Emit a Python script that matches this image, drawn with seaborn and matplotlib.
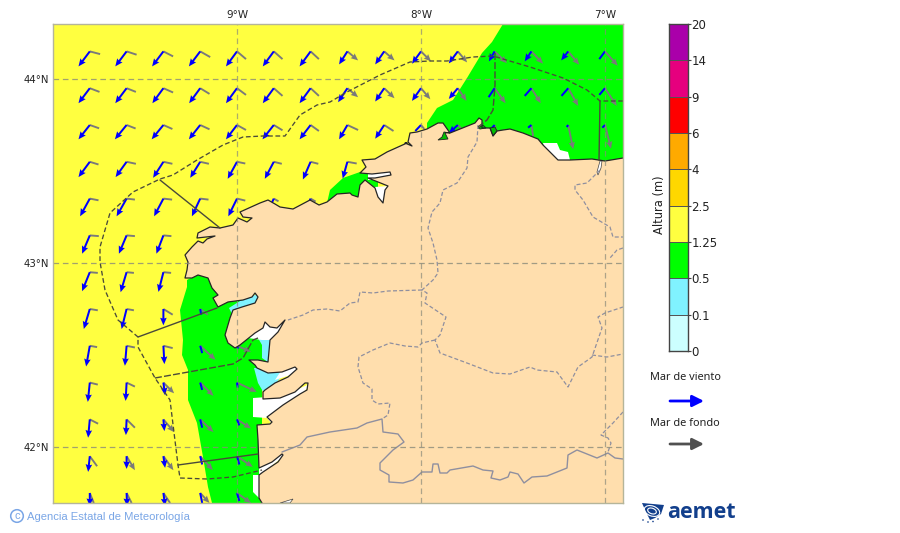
import numpy as np
import pandas as pd
import seaborn as sns
import matplotlib
matplotlib.use("Agg")
import matplotlib.pyplot as plt
from matplotlib.colors import ListedColormap
from matplotlib.patches import Ellipse, Polygon, Circle

# ---------------------------------------------------------------- data
LEVELS = ["0", "0.1", "0.5", "1.25", "2.5", "4", "6", "9", "14", "20"]
LEVEL_COLORS = ["#CCFFFF", "#80F2FF", "#00FF00", "#FFFF40", "#FFD700",
                "#FFAA00", "#FF0000", "#E6007E", "#AA00AA"]
LON_TICKS = [-9, -8, -7]
LAT_TICKS = [42, 43, 44]
GRID_LON = [-9.8 + 0.2 * k for k in range(15)]
GRID_LAT = [44.15 - 0.2 * k for k in range(13)]
n = np.nan

# wind-sea (blue) and swell (grey) vectors on the grid, one row per latitude
BLUE_U = [
    [-11.3, -11.3, -11.3, -11.3, -11, -11, -11, -8.3, -9, -9, -9, -5.7, -6.7, -7, -5.7],
    [-11.3, -11.3, -11, -11, -11, -11, -11, -9.3, -9, -9, -9, -6, -6.7, -6.7, -5.7],
    [-11.3, -11.7, -11.7, -11.3, -11, -11.3, -11, -8.3, -9, -5.7, -9, -4, -3.3, -1.5, -2.7],
    [-11.3, -11, -10.3, -10, -9.3, -9, -7.7, -4.7, n, n, n, n, n, n, n],
    [-9.7, -10, -9.3, -8.3, -8.7, -7, -7, n, n, n, n, n, n, n, n],
    [-7.7, -7.7, -7, n, n, n, n, n, n, n, n, n, n, n, n],
    [-7.7, -6, -5, n, n, n, n, n, n, n, n, n, n, n, n],
    [-6, -5, 0, 1, -4, n, n, n, n, n, n, n, n, n, n],
    [-3.7, -1.7, 1, 2, 1, n, n, n, n, n, n, n, n, n, n],
    [-2, -1, 1.7, 2, 0.7, n, n, n, n, n, n, n, n, n, n],
    [-1.7, -0.7, 1, 2, 2.3, n, n, n, n, n, n, n, n, n, n],
    [-1.7, 0, 1.7, 2, 2.3, n, n, n, n, n, n, n, n, n, n],
    [0, 0.5, 1.7, 2, 2.3, n, n, n, n, n, n, n, n, n, n],
]
BLUE_V = [
    [-15, -15, -15, -15, -15, -15, -15, -13, -13, -12.3, -12, -10, -10, -9, -7.7],
    [-15, -15, -15, -15, -15, -15, -15, -14, -13.3, -12.7, -10.7, -9, -7.7, -7.7, -6.7],
    [-14.3, -14.3, -14.3, -14.3, -14.3, -14.3, -14.3, -14.3, -13.7, -6, -8.3, -4.3, -2.7, -2, -2.7],
    [-15.3, -15.3, -16, -16, -17, -17, -17.7, -16.7, n, n, n, n, n, n, n],
    [-17.7, -17.7, -17.7, -17.7, -17.7, -15, -15, n, n, n, n, n, n, n, n],
    [-18.3, -18.3, -18.3, n, n, n, n, n, n, n, n, n, n, n, n],
    [-19, -20, -19.7, n, n, n, n, n, n, n, n, n, n, n, n],
    [-20, -20, -16.3, -5.7, -4, n, n, n, n, n, n, n, n, n, n],
    [-20.7, -20, -18.3, -7.3, -3, n, n, n, n, n, n, n, n, n, n],
    [-19.3, -18.3, -12.7, -7.3, -5, n, n, n, n, n, n, n, n, n, n],
    [-18.3, -15.7, -11.7, -8.3, -6, n, n, n, n, n, n, n, n, n, n],
    [-15.7, -12.7, -11.7, -8.3, -8.3, n, n, n, n, n, n, n, n, n, n],
    [-13, -13, -13, -10, -8, n, n, n, n, n, n, n, n, n, n],
]
GREY_U = [
    [10.3, 10, 9.7, 10, 9, 8.7, 8.3, 10.7, 10.3, 10, 9.3, 12.3, 11.7, 11, 12.7],
    [9.7, 9.3, 9.7, 9.3, 9, 8.7, 8.3, 10.7, 10.3, 9.3, 8.7, 11, 9.3, 10, 11.7],
    [9.3, 9, 9, 9.3, 9, 8.7, 8.3, 10.7, 9.3, 3.3, 3, 2.3, 1.7, 5, 6],
    [8.7, 9.3, 9, 8.7, 8.3, 8, 7.7, 9.3, n, n, n, n, n, n, n],
    [8.7, 8.3, 8.7, 8.3, 8.3, 4.7, 5, n, n, n, n, n, n, n, n],
    [9, 8.3, 8, n, n, n, n, n, n, n, n, n, n, n, n],
    [8, 7.3, 7.7, n, n, n, n, n, n, n, n, n, n, n, n],
    [8, 7.3, 9.3, 7.7, 3, n, n, n, n, n, n, n, n, n, n],
    [7.3, 8.3, 9.3, 15.3, 14, n, n, n, n, n, n, n, n, n, n],
    [8, 8.3, 10.7, 13.3, 19.7, n, n, n, n, n, n, n, n, n, n],
    [8.3, 8.3, 10.7, 13.3, 14, n, n, n, n, n, n, n, n, n, n],
    [7.3, 8.3, 10, 12.7, 15.7, n, n, n, n, n, n, n, n, n, n],
    [4, 5, 6.7, 9.3, 14, n, n, n, n, n, n, n, n, n, n],
]
GREY_V = [
    [-2.7, -3.3, -5, -5.7, -7.7, -7.7, -7.7, -9, -9, -10, -11, -11.7, -12.3, -13.3, -14.3],
    [-3.7, -3.7, -4.3, -5.7, -6.7, -7.7, -7.7, -9, -10, -11, -12.7, -15, -15, -17.7, -17.7],
    [-3.3, -3.5, -4, -4.3, -5, -5.3, -6, -5, -6, -4, -3, -9.3, -11, -24.3, -23.7],
    [-2.7, -2, -2, -2, -1.7, -2, -2, -1.7, n, n, n, n, n, n, n],
    [-1.7, -1, -1, -1, -2, -2.7, -3, n, n, n, n, n, n, n, n],
    [-0.7, -0.7, -0.7, n, n, n, n, n, n, n, n, n, n, n, n],
    [-0.7, -0.7, -0.7, n, n, n, n, n, n, n, n, n, n, n, n],
    [-1.3, -1.3, -5.7, -5.7, -3, n, n, n, n, n, n, n, n, n, n],
    [-1.3, -1.7, -2.3, -14, -6, n, n, n, n, n, n, n, n, n, n],
    [-2, -4, -10.7, -13.3, -9.3, n, n, n, n, n, n, n, n, n, n],
    [-4.3, -8.3, -12.7, -12.7, -9, n, n, n, n, n, n, n, n, n, n],
    [-10, -14, -14, -14, -10.7, n, n, n, n, n, n, n, n, n, n],
    [-10, -10, -10, -10, -10, n, n, n, n, n, n, n, n, n, n],
]

# map outlines traced on a 184-cells-per-degree grid (i east, j south)
COAST = [(623,158),(605,161),(592,159),(570,160),(558,160),(553,155),(543,145),(538,139),(523,133),
    (510,129),(503,130),(497,131),(493,136),(490,128),(482,128),(482,120),(479,118),(475,123),(460,129),
    (450,133),(443,123),(438,123),(427,129),(417,132),(410,133),(408,142),(412,146),(405,143),(407,143),
    (387,152),(375,159),(362,160),(366,167),(360,173),(372,174),(390,172),(391,175),(375,178),(368,178),
    (388,186),(385,190),(383,203),(378,197),(375,188),(365,180),(360,185),(358,197),(352,195),(350,193),
    (337,194),(327,202),(319,205),(310,200),(293,209),(280,207),(275,204),(268,200),(260,203),(240,212),
    (243,217),(252,218),(247,222),(238,218),(233,225),(220,228),(210,227),(198,233),(197,238),(215,236),
    (207,239),(203,243),(198,241),(192,247),(185,255),(188,262),(187,270),(185,278),(192,278),(198,275),
    (208,278),(212,288),(218,295),(213,298),(218,307),(228,302),(243,300),(252,297),(255,293),(258,297),
    (255,303),(242,307),(233,310),(230,318),(225,335),(228,343),(235,348),(240,345),(250,337),(255,333),
    (263,328),(265,322),(270,327),(277,328),(285,320),(278,332),(270,340),(268,362),(258,360),(249,360),
    (255,365),(257,368),(268,373),(282,372),(295,367),(297,369),(288,377),(275,383),(265,390),(263,392),
    (263,399),(280,398),(295,392),(305,383),(308,383),(307,390),(300,394),(283,405),(267,417),(272,422),
    (270,424),(257,425),(258,440),(259,468),(272,462),(282,454),(283,455),(278,462),(263,472),(259,475),
    (259,498),(262,503)]
LAND_CORNERS = [(623,503)]
GREEN_NE = [(503,24),(623,24),(623,175),(427,150),(427,123),(437,108),(453,100),(467,78),(482,53),(492,42)]
GREEN_BAY = [(327,203),(330,190),(343,178),(360,172),(378,177),(378,200),(350,205)]
GREEN_W = [(187,280),(187,287),(180,310),(183,340),(182,355),(188,370),(188,400),(197,423),(203,457),
    (208,487),(212,503),(262,503),(262,380),(285,320),(240,290),(205,270)]
CYAN_AREAS = [
    [(229,308),(240,301),(260,293),(258,304),(238,310),(232,314)],
    [(258,338),(270,338),(272,365),(262,358),(262,345)],
    [(254,368),(258,383),(265,395),(272,388),(282,376),(283,366),(268,368)],
]
WHITE_AREAS = [
    [(543,143),(557,143),(560,150),(568,152),(570,160),(548,165)],
    [(375,187),(388,186),(383,204),(375,195)],
    [(368,172),(395,170),(395,178),(368,180)],
    [(248,338),(262,322),(290,315),(280,340),(262,340)],
    [(275,380),(283,368),(300,362),(300,372)],
    [(253,398),(253,417),(267,418),(272,424),(300,396),(312,383),(282,396)],
    [(253,475),(253,492),(259,498),(262,503),(262,475)],
    [(259,468),(284,452),(284,456),(259,476)],
]
ESTUARY_GREEN = [[(438,140),(448,139),(445,133),(450,133),(444,132),(442,137)],
    [(478,128),(483,125),(486,128),(480,129)],[(490,128),(493,136),(497,131),(495,127)]]
ESTUARY_WHITE = [[(600,161),(597,172),(598,175),(601,168),(602,161)],[(280,503),(293,499),(290,503)]]

PROV_LINES = [
    [(478,125),(477,142),(468,157),(467,168),(457,183),(443,190),(440,203),(432,212),(428,228),(433,243),
     (437,260),(438,273),(433,280),(422,290),(427,293),(425,303),(446,317),(440,335),(435,340),(440,353),
     (467,363),(493,373),(510,374),(530,367),(537,370),(557,372),(568,387),(578,367),(592,357),(602,328),
     (598,317),(605,313),(623,307)],
    [(422,290),(388,291),(373,293),(360,292),(358,302),(350,303),(340,311),(327,309),(313,310),(303,315),(288,320)],
    [(435,340),(422,343),(418,347),(405,346),(390,343),(373,350),(359,357),(358,367),(363,383),(372,389),
     (372,400),(378,404),(390,403),(388,415),(382,419)],
    [(592,355),(607,357),(623,354)],
    [(600,170),(587,183),(575,185),(575,190),(583,200),(593,217),(610,227),(613,237),(623,237)],
    [(623,248),(617,250),(610,258)],
    [(623,412),(613,423),(601,435),(608,438),(611,443),(608,452)],
]
BORDER = [(282,452),(300,445),(307,437),(330,432),(357,428),(367,423),(382,419),(383,432),(398,434),
    (404,442),(393,450),(380,463),(380,470),(389,475),(389,482),(403,483),(413,480),(422,472),(432,472),
    (433,464),(438,464),(440,473),(447,473),(450,470),(473,466),(483,470),(493,471),(491,478),(500,480),
    (508,477),(510,472),(518,474),(524,483),(532,477),(547,476),(567,468),(568,455),(577,450),(597,458),
    (608,453),(615,458),(623,459)]
ZONE_OUTER = [(623,101),(600,101),(587,90),(563,78),(530,67),(503,59),(493,56),(473,57),(447,61),(430,61),
    (410,62),(380,75),(347,92),(330,102),(317,105),(300,115),(285,136),(263,136),(243,137),(223,145),
    (197,160),(173,175),(160,179),(133,192),(110,213),(100,247),(100,262),(105,290),(118,320),(138,337),
    (138,347),(155,378),(170,400),(178,465),(180,478),(207,479),(233,477),(262,470)]
ZONE_SOLID = [[(160,180),(220,228)],[(138,337),(217,308)],[(178,465),(258,454)],[(600,101),(599,160)]]
ZONE_DASHED = [[(155,378),(233,364),(243,358),(253,340),(258,338)],
    [(495,53),(495,85),(493,110),(487,120),(478,127)]]

def lon(i):
    return -9 + (i - 237) / 184

def lat(j):
    return 43 + (263 - j) / 184

def geo(path):
    a = np.array(path, dtype=float)
    return lon(a[:, 0]), lat(a[:, 1])

def long_table(u, v):
    lons, lats = np.meshgrid(GRID_LON, GRID_LAT)
    t = pd.DataFrame({"lon": lons.ravel(), "lat": lats.ravel(),
                      "u": np.array(u).ravel(), "v": np.array(v).ravel()})
    t = t.dropna()
    t["length"] = np.hypot(t.u, t.v)
    return t

# ---------------------------------------------------------------- figure
sns.set_theme(style="white")
plt.rcParams["font.family"] = ["DejaVu Sans"]
W, H = 900, 533
fig = plt.figure(figsize=(W / 100, H / 100), dpi=100, facecolor="white")
ax = fig.add_axes([53 / W, (H - 503) / H, 570 / W, 479 / H])
ax.set_facecolor("#FFFF40")
ax.set_xlim(lon(53), lon(623))
ax.set_ylim(lat(503), lat(24))

def fill(path, color, z, **kw):
    xs, ys = geo(path)
    ax.fill(xs, ys, color=color, lw=0, zorder=z, **kw)

def line(path, color, lw, ls="-", z=6):
    xs, ys = geo(path)
    sns.lineplot(x=xs, y=ys, sort=False, estimator=None, color=color, linewidth=lw,
                 linestyle=ls, ax=ax, legend=False, zorder=z)

for g in (GREEN_NE, GREEN_BAY, GREEN_W):
    fill(g, "#00FF00", 1)
for c in CYAN_AREAS:
    fill(c, "#80F2FF", 1.5)
for w in WHITE_AREAS:
    fill(w, "white", 1.6)

base = dict(angles="uv", scale_units="dots", scale=1, units="dots", pivot="tail")
headed = dict(headwidth=3.3, headlength=3.8, headaxislength=3.4, minshaft=0.5, **base)
plain = dict(headwidth=1, headlength=0, headaxislength=0, minshaft=0, minlength=0, **base)

def draw_vectors(t, color, width, cutoff, z):
    long_ = t[t.length >= cutoff]
    short = t[t.length < cutoff]
    ax.quiver(short.lon, short.lat, short.u, short.v, color=color, width=width, zorder=z, **plain)
    ax.quiver(long_.lon, long_.lat, long_.u, long_.v, color=color, width=width, zorder=z, **headed)

draw_vectors(long_table(GREY_U, GREY_V), "#7a7a7a", 1.9, 12.5, 2)
draw_vectors(long_table(BLUE_U, BLUE_V), "#0000FF", 2.0, 11.0, 3)

fill(COAST + LAND_CORNERS, "#FFDEAD", 4)
for g in ESTUARY_GREEN:
    xs, ys = geo(g)
    ax.fill(xs, ys, facecolor="#00C000", edgecolor="#222222", lw=0.6, zorder=5)
for w in ESTUARY_WHITE:
    xs, ys = geo(w)
    ax.fill(xs, ys, facecolor="white", edgecolor="#444444", lw=0.5, zorder=5)

line(COAST, "#262626", 0.9, z=6)
for p in PROV_LINES:
    line(p, "#8f8f9f", 0.9, (0, (3.2, 1.8)), z=5)
line(BORDER, "#8f8f9f", 1.0, z=5)
line(ZONE_OUTER, "#4a4a3a", 0.95, (0, (3.6, 2.0)), z=7)
for p in ZONE_SOLID:
    line(p, "#4a4a3a", 1.0, z=7)
for p in ZONE_DASHED:
    line(p, "#4a4a3a", 1.0, (0, (5.0, 1.6)), z=7)

for v in LON_TICKS:
    ax.axvline(v, color="#8a8a7a", lw=0.9, alpha=0.7, ls=(0, (4.5, 3)), zorder=6)
for v in LAT_TICKS:
    ax.axhline(v, color="#8a8a7a", lw=0.9, alpha=0.8, ls=(0, (4.5, 3)), zorder=6)

ax.set_xticks(LON_TICKS)
ax.set_xticklabels([f"{abs(v)}°W" for v in LON_TICKS], fontsize=7.5, color="#222222")
ax.set_yticks(LAT_TICKS)
ax.set_yticklabels([f"{v}°N" for v in LAT_TICKS], fontsize=7.3, color="#222222")
ax.tick_params(axis="x", top=True, bottom=False, labeltop=True, labelbottom=False, length=0, pad=3)
ax.tick_params(axis="y", length=0, pad=3)
for s in ax.spines.values():
    s.set_color("#b5b59a")
    s.set_linewidth(1.0)
    s.set_zorder(9)

# ---------------------------------------------------------------- colour bar
cax = fig.add_axes([669 / W, (H - 351) / H, 19 / W, 327 / H])
cells = np.arange(len(LEVEL_COLORS))[::-1].reshape(-1, 1)
sns.heatmap(cells, ax=cax, cmap=ListedColormap(LEVEL_COLORS), cbar=False, vmin=-0.5,
            vmax=len(LEVEL_COLORS) - 0.5, linewidths=0.5, linecolor="#555555",
            xticklabels=False, yticklabels=False)
cax.set_yticks(np.arange(len(LEVELS)))
cax.set_yticklabels(LEVELS[::-1], rotation=0, fontsize=8.5, color="#222222")
cax.yaxis.tick_right()
cax.tick_params(axis="y", length=2, width=0.8, pad=0.5, color="#444444", right=True)
for s in cax.spines.values():
    s.set_visible(True)
    s.set_color("#444444")
    s.set_linewidth(1.0)
fig.text(659 / W, 1 - 205 / H, "Altura (m)", rotation=90, ha="center", va="center",
         fontsize=8.3, color="#222222")

# ---------------------------------------------------------------- legend, footer, logo
ov = fig.add_axes([0, 0, 1, 1], facecolor="none")
ov.set_xlim(0, W)
ov.set_ylim(H, 0)
ov.axis("off")
ov.text(686, 377.5, "Mar de viento", ha="center", va="center", fontsize=7.9,
        family="Noto Sans", color="#222222")
ov.text(685, 424, "Mar de fondo", ha="center", va="center", fontsize=7.9,
        family="Noto Sans", color="#222222")
for yy, col in ((401, "#0000FF"), (444, "#505050")):
    ov.annotate("", xy=(704, yy), xytext=(670, yy),
                arrowprops=dict(arrowstyle="-|>", color=col, lw=2.0, mutation_scale=17,
                                shrinkA=0, shrinkB=0))

ov.add_patch(Circle((17, 516), 6.3, fill=False, ec="#7aa6e6", lw=1.1))
ov.text(17.2, 516, "c", ha="center", va="center", fontsize=8, color="#7aa6e6",
        family="Liberation Sans")
ov.text(27, 516.5, "Agencia Estatal de Meteorología", ha="left", va="center", fontsize=8.1,
        color="#7aa6e6", family="Liberation Sans")

LOGO = "#123f8c"
ov.add_patch(Polygon([(642, 503), (664, 505), (661, 514), (655, 518), (650, 520), (646, 512)],
                     closed=True, fc=LOGO, ec="none"))
for w_, h_ in ((16, 10), (9, 5.5)):
    ov.add_patch(Ellipse((652, 511), w_, h_, angle=20, fill=False, ec="white", lw=0.8))
for dx, dy in ((643, 520), (648, 522), (653, 521.5), (658, 519)):
    ov.add_patch(Circle((dx, dy), 0.8, fc=LOGO, ec="none"))
ov.text(667, 512, "aemet", ha="left", va="center", fontsize=15.5, fontweight="bold",
        color=LOGO, family="Open Sans")

fig.savefig("out.png", dpi=100)
